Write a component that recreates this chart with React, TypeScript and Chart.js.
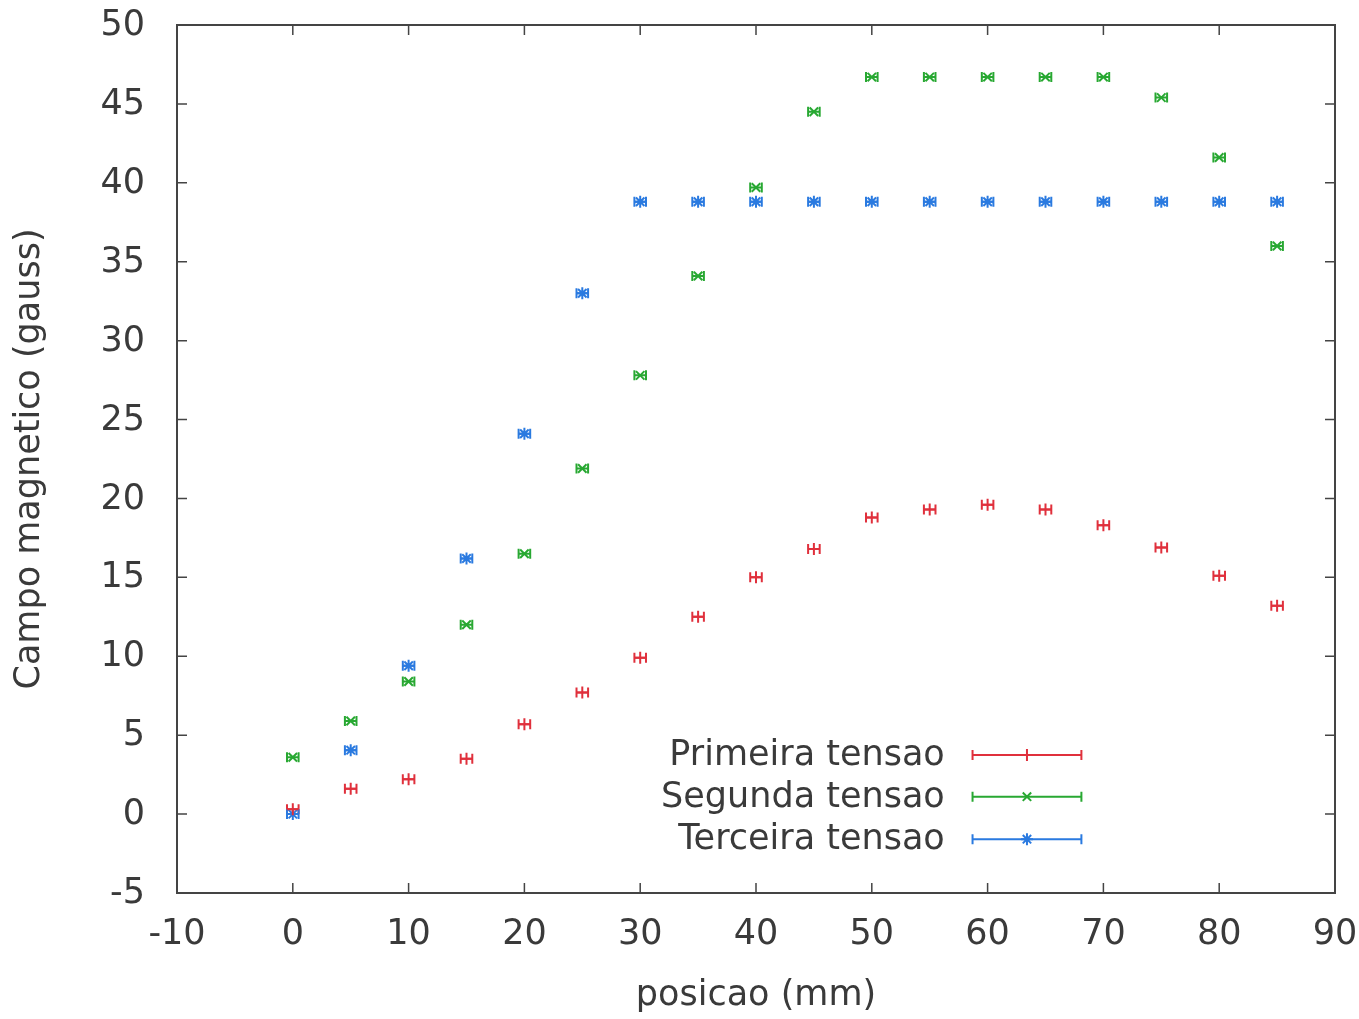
import React, { useEffect, useRef } from "react";
import { Chart, registerables } from "chart.js";

Chart.register(...registerables);

const positions = [0, 5, 10, 15, 20, 25, 30, 35, 40, 45, 50, 55, 60, 65, 70, 75, 80, 85];
const primeira = [0.3, 1.6, 2.2, 3.5, 5.7, 7.7, 9.9, 12.5, 15.0, 16.8, 18.8, 19.3, 19.6, 19.3, 18.3, 16.9, 15.1, 13.2];
const segunda = [3.6, 5.9, 8.4, 12.0, 16.5, 21.9, 27.8, 34.1, 39.7, 44.5, 46.7, 46.7, 46.7, 46.7, 46.7, 45.4, 41.6, 36.0];
const terceira = [0.0, 4.05, 9.4, 16.2, 24.1, 33.0, 38.8, 38.8, 38.8, 38.8, 38.8, 38.8, 38.8, 38.8, 38.8, 38.8, 38.8, 38.8];
const X_ERROR = 0.5;

const xTicks = [-10, 0, 10, 20, 30, 40, 50, 60, 70, 80, 90];
const yTicks = [-5, 0, 5, 10, 15, 20, 25, 30, 35, 40, 45, 50];

const seriesLabels = ["Primeira tensao", "Segunda tensao", "Terceira tensao"];
const seriesColors = ["#e0303c", "#28a832", "#2a7ae0"];
const seriesStyles = ["cross", "crossRot", "star"];
const xAxisTitle = "posicao (mm)";
const yAxisTitle = "Campo magnetico (gauss)";

const FONT = "'DejaVu Sans', sans-serif";
const FONT_SIZE = 35;
const TEXT_COLOR = "#3a3a3a";

const gnuplotPlugin = {
  id: "gnuplotDecor",
  beforeDatasetsDraw(chart: any) {
    const ctx = chart.ctx;
    const xs = chart.scales.x;
    const ys = chart.scales.y;
    const { left, right, top, bottom } = chart.chartArea;
    ctx.save();
    ctx.strokeStyle = "#444";
    ctx.lineWidth = 1.5;
    const tl = 10;
    ctx.font = `${FONT_SIZE}px ${FONT}`;
    ctx.fillStyle = TEXT_COLOR;
    ctx.textAlign = "center";
    ctx.textBaseline = "middle";
    xTicks.forEach((v) => {
      const px = xs.getPixelForValue(v);
      ctx.beginPath();
      ctx.moveTo(px, bottom);
      ctx.lineTo(px, bottom - tl);
      ctx.moveTo(px, top);
      ctx.lineTo(px, top + tl);
      ctx.stroke();
      ctx.fillText(String(v), px, bottom + 42);
    });
    ctx.textAlign = "right";
    yTicks.forEach((v) => {
      const py = ys.getPixelForValue(v);
      ctx.beginPath();
      ctx.moveTo(left, py);
      ctx.lineTo(left + tl, py);
      ctx.moveTo(right, py);
      ctx.lineTo(right - tl, py);
      ctx.stroke();
      ctx.fillText(String(v), left - 32, py + 1);
    });
    ctx.lineWidth = 2;
    ctx.strokeRect(left, top, right - left, bottom - top);
    chart.data.datasets.forEach((ds: any, i: number) => {
      ctx.strokeStyle = seriesColors[i];
      ctx.lineWidth = 2;
      ds.data.forEach((p: any) => {
        const x1 = xs.getPixelForValue(p.x - X_ERROR);
        const x2 = xs.getPixelForValue(p.x + X_ERROR);
        const py = ys.getPixelForValue(p.y);
        ctx.beginPath();
        ctx.moveTo(x1, py);
        ctx.lineTo(x2, py);
        ctx.moveTo(x1, py - 5);
        ctx.lineTo(x1, py + 5);
        ctx.moveTo(x2, py - 5);
        ctx.lineTo(x2, py + 5);
        ctx.stroke();
      });
    });
    ctx.restore();
  },
  afterDatasetsDraw(chart: any) {
    const ctx = chart.ctx;
    const { left, right, top, bottom } = chart.chartArea;
    const w = right - left;
    const h = bottom - top;
    const textRight = left + w * 0.663;
    const lineStart = left + w * 0.687;
    const lineEnd = left + w * 0.781;
    const mid = (lineStart + lineEnd) / 2;
    const rowY = [top + h * 0.841, top + h * 0.889, top + h * 0.938];
    ctx.save();
    ctx.font = `${FONT_SIZE}px ${FONT}`;
    ctx.textAlign = "right";
    ctx.textBaseline = "middle";
    seriesLabels.forEach((lab, i) => {
      const y = rowY[i];
      ctx.fillStyle = TEXT_COLOR;
      ctx.fillText(lab, textRight, y + 1);
      ctx.strokeStyle = seriesColors[i];
      ctx.lineWidth = 2;
      ctx.beginPath();
      ctx.moveTo(lineStart, y);
      ctx.lineTo(lineEnd, y);
      ctx.moveTo(lineStart, y - 5);
      ctx.lineTo(lineStart, y + 5);
      ctx.moveTo(lineEnd, y - 5);
      ctx.lineTo(lineEnd, y + 5);
      ctx.stroke();
      const r = 6;
      ctx.beginPath();
      if (seriesStyles[i] === "cross") {
        ctx.moveTo(mid, y - r);
        ctx.lineTo(mid, y + r);
        ctx.moveTo(mid - r, y);
        ctx.lineTo(mid + r, y);
      } else if (seriesStyles[i] === "crossRot") {
        ctx.moveTo(mid - r * 0.7, y - r * 0.7);
        ctx.lineTo(mid + r * 0.7, y + r * 0.7);
        ctx.moveTo(mid - r * 0.7, y + r * 0.7);
        ctx.lineTo(mid + r * 0.7, y - r * 0.7);
      } else {
        ctx.moveTo(mid, y - r);
        ctx.lineTo(mid, y + r);
        ctx.moveTo(mid - r, y);
        ctx.lineTo(mid + r, y);
        ctx.moveTo(mid - r * 0.7, y - r * 0.7);
        ctx.lineTo(mid + r * 0.7, y + r * 0.7);
        ctx.moveTo(mid - r * 0.7, y + r * 0.7);
        ctx.lineTo(mid + r * 0.7, y - r * 0.7);
      }
      ctx.stroke();
    });
    ctx.restore();
  },
};

export default function App() {
  const ref = useRef<HTMLCanvasElement | null>(null);
  useEffect(() => {
    if (!ref.current) return;
    const series = [primeira, segunda, terceira];
    const chart = new Chart(ref.current, {
      type: "scatter",
      data: {
        datasets: series.map((vals, i) => ({
          label: seriesLabels[i],
          data: positions.map((x, j) => ({ x, y: vals[j] })),
          borderColor: seriesColors[i],
          backgroundColor: seriesColors[i],
          pointStyle: seriesStyles[i] as any,
          pointRadius: 6,
          pointBorderWidth: 2,
          showLine: false,
        })),
      },
      options: {
        animation: false,
        responsive: false,
        maintainAspectRatio: false,
        layout: { padding: { left: 0, top: 25, right: 24, bottom: 0 } },
        plugins: { legend: { display: false }, tooltip: { enabled: false } },
        scales: {
          x: {
            type: "linear",
            min: -10,
            max: 90,
            grid: { display: false, drawTicks: false },
            border: { display: false },
            ticks: { display: false, stepSize: 10 },
            title: {
              display: true,
              text: xAxisTitle,
              color: TEXT_COLOR,
              font: { family: FONT, size: FONT_SIZE },
              padding: { top: 2, bottom: 2 },
            },
            afterFit: (s: any) => {
              s.height = 126;
            },
          },
          y: {
            type: "linear",
            min: -5,
            max: 50,
            grid: { display: false, drawTicks: false },
            border: { display: false },
            ticks: { display: false, stepSize: 5 },
            title: {
              display: true,
              text: yAxisTitle,
              color: TEXT_COLOR,
              font: { family: FONT, size: FONT_SIZE },
              padding: { top: 9, bottom: 0 },
            },
            afterFit: (s: any) => {
              s.width = 177;
            },
          },
        },
      },
      plugins: [gnuplotPlugin],
    });
    return () => chart.destroy();
  }, []);
  return (
    <div style={{ position: "fixed", left: 0, top: 0, width: 1359, height: 1019, background: "#fff" }}>
      <canvas ref={ref} width={1359} height={1019} style={{ width: 1359, height: 1019 }} />
    </div>
  );
}
